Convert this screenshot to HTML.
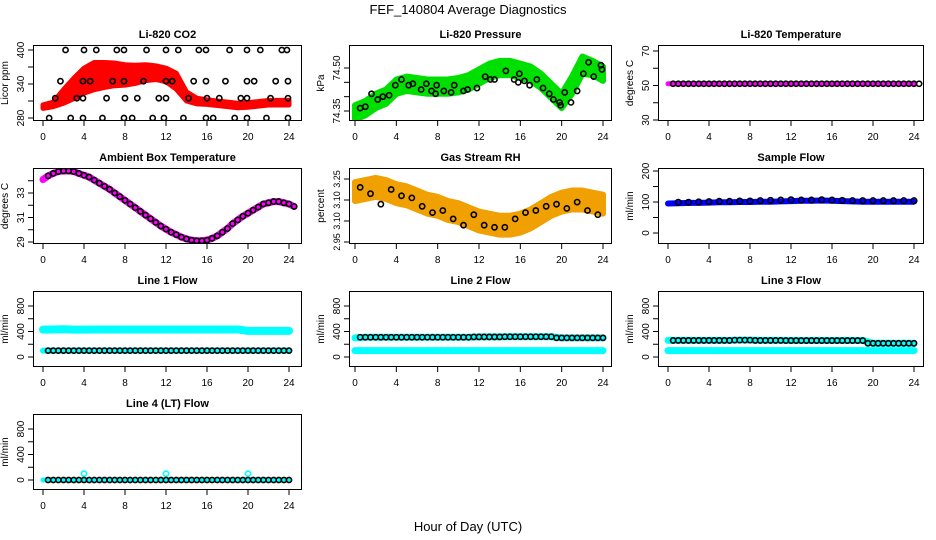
<!DOCTYPE html>
<html><head><meta charset="utf-8"><style>
body{margin:0;background:#fff}
svg{display:block}
text{font-family:"Liberation Sans",sans-serif;fill:#000}
</style></head><body>
<svg id="c" width="936" height="540" viewBox="0 0 936 540">
<text x="468" y="14" text-anchor="middle" font-size="13">FEF_140804  Average Diagnostics</text>
<text x="468" y="531" text-anchor="middle" font-size="13">Hour of Day (UTC)</text>
</svg>
<script>
// ---- data (hourly unless noted) ----
const hours = [0,1,2,3,4,5,6,7,8,9,10,11,12,13,14,15,16,17,18,19,20,21,22,23,24];
const co2Band = [300,304,318,332,346,354,356,357,356,357,360,360,356,345,318,310,308,306,304,302,303,305,307,307,307];
const co2Spread = [3,4,12,18,22,24,22,20,18,16,14,12,12,14,8,5,4,4,4,4,4,4,4,4,4];
const co2PtTimes = [2.2,4.0,5.2,7.2,7.9,10.1,12.0,13.2,15.2,15.9,18.2,19.9,21.2,23.3,23.8,1.7,3.9,4.6,6.8,7.9,9.8,12.0,12.6,14.7,15.9,17.8,19.9,20.6,22.7,23.9,1.2,3.3,3.9,6.2,8.0,9.2,11.3,12.0,14.2,16.0,17.2,19.3,19.9,22.2,23.9,0.6,2.7,3.9,5.8,7.9,8.7,10.7,11.8,13.7,15.9,16.6,18.7,19.9,21.8,23.9];
const co2PtVals = [400,400,400,400,400,400,400,400,400,400,400,400,400,400,400,345,345,345,345,345,345,345,345,345,345,345,345,345,345,345,315,315,315,315,315,315,315,315,315,315,315,315,315,315,315,280,280,280,280,280,280,280,280,280,280,280,280,280,280,280];
const presBand = [74.345,74.36,74.385,74.40,74.435,74.445,74.44,74.435,74.435,74.435,74.44,74.45,74.47,74.49,74.50,74.50,74.49,74.48,74.455,74.42,74.385,74.44,74.51,74.50,74.48];
const presSpread = [0.025,0.025,0.025,0.025,0.025,0.025,0.025,0.025,0.025,0.025,0.025,0.025,0.025,0.025,0.025,0.025,0.025,0.025,0.025,0.025,0.025,0.03,0.03,0.025,0.025];
const presPtTimes = [0.5,1,1.6,2.2,2.7,3.3,3.9,4.5,5.2,5.6,6.4,6.9,7.4,7.8,7.9,8.6,9.3,9.6,10.5,10.9,11.8,12.6,13.1,13.5,14.6,15.4,15.8,15.9,16.4,16.9,17.6,18.2,18.8,19.2,19.8,19.9,20.3,20.9,21.5,22.1,22.6,23.1,23.8,23.9];
const presPtVals = [74.36,74.365,74.41,74.39,74.40,74.405,74.44,74.46,74.44,74.445,74.425,74.445,74.42,74.41,74.44,74.42,74.415,74.44,74.42,74.425,74.43,74.47,74.46,74.46,74.49,74.46,74.45,74.48,74.455,74.44,74.46,74.43,74.41,74.39,74.38,74.37,74.415,74.38,74.42,74.48,74.52,74.47,74.51,74.495];
const licorTemp = [51,51,51,51,51,51,51,51,51,51,51,51,51,51,51,51,51,51,51,51,51,51,51,51,51];
const ambStart = [34.1];
const ambPts = [34.4,34.6,34.75,34.8,34.8,34.75,34.6,34.45,34.3,34.05,33.8,33.55,33.3,33.0,32.7,32.4,32.1,31.8,31.5,31.2,30.9,30.6,30.3,30.05,29.8,29.6,29.4,29.25,29.15,29.1,29.1,29.15,29.3,29.5,29.8,30.1,30.5,30.8,31.1,31.35,31.6,31.85,32.1,32.2,32.3,32.3,32.2,32.1,31.9];
const rhBand = [3.19,3.20,3.21,3.20,3.18,3.17,3.15,3.13,3.12,3.10,3.09,3.07,3.05,3.04,3.03,3.03,3.04,3.06,3.09,3.12,3.14,3.15,3.15,3.14,3.13];
const rhPts = [3.21,3.18,3.13,3.20,3.17,3.16,3.12,3.09,3.10,3.06,3.03,3.08,3.03,3.02,3.02,3.06,3.09,3.10,3.12,3.13,3.11,3.14,3.10,3.08];
const sampleBand = [95,96,97,97,98,99,99,100,100,101,101,102,103,104,104,105,104,103,102,101,101,101,101,101,101];
const samplePts = [98,99,99,100,101,102,102,103,103,104,105,106,107,106,106,107,106,105,104,104,104,104,104,104,104];
const line1Cyan = [430,432,435,430,430,432,432,432,432,432,432,432,432,432,432,432,432,432,432,432,410,410,410,410,410];
const line1Black = [100,100,100,100,100,100,100,100,100,100,100,100,100,100,100,100,100,100,100,100,100,100,100,100,100];
const line2Cyan = [100,100,100,100,100,100,100,100,100,100,100,100,100,100,100,100,100,100,100,100,100,100,100,100,100];
const line2Black = [300,310,310,310,310,310,310,310,310,310,310,310,315,315,315,318,318,318,318,318,300,300,300,300,300];
const line3Cyan = [100,100,100,100,100,100,100,100,100,100,100,100,100,100,100,100,100,100,100,100,100,100,100,100,100];
const line3Black = [260,260,260,260,260,260,260,265,265,260,260,260,258,258,258,258,258,258,258,258,215,215,215,215,215];
const line4Cyan = [0,0,0,0,100,0,0,0,0,0,0,0,100,0,0,0,0,0,0,0,100,0,0,0,0];
const line4Black = [0,0,0,0,0,0,0,0,0,0,0,0,0,0,0,0,0,0,0,0,0,0,0,0,0];
const xTicks = [0,4,8,12,16,20,24];

const svg = document.getElementById('c');
const NS = 'http://www.w3.org/2000/svg';
function mk(tag, attrs, parent){const e=document.createElementNS(NS,tag);for(const k in attrs)e.setAttribute(k,attrs[k]);(parent||svg).appendChild(e);return e;}

const colL=[33,349,658], colR=[302,612,924], colX0=[43,355,668], colX24=[289,603,914];
const rowT=[45,168,291,414], H=76;

function panel(o){
  const l=colL[o.col], r=colR[o.col], t=rowT[o.row], b=t+H;
  const g=mk('g',{});
  
  
  const xs=h=>colX0[o.col]+(colX24[o.col]-colX0[o.col])*h/24;
  const ys=v=>t+o.a[1]+(v-o.a[0])*(o.b[1]-o.a[1])/(o.b[0]-o.a[0]);
  const clip='cl'+o.name; const cp=mk('clipPath',{id:clip},g); mk('rect',{x:l,y:t,width:r-l,height:H},cp);
  const d=mk('g',{'clip-path':'url(#'+clip+')'},g);
  (o.bands||[]).forEach(bd=>{
    let pts=[];
    bd.c.forEach((v,i)=>pts.push(xs(hours[i])+','+ys(v+bd.s[i])));
    for(let i=bd.c.length-1;i>=0;i--)pts.push(xs(hours[i])+','+ys(bd.c[i]-bd.s[i]));
    const p=mk('polygon',{points:pts.join(' '),fill:bd.color,stroke:bd.color,'stroke-width':bd.sw||5,'stroke-linejoin':'round'},d);
    
    
  });
  (o.lines||[]).forEach(ln=>{
    const tt=ln.t||hours;
    const pl=mk('polyline',{points:ln.v.map((v,i)=>xs(tt[i])+','+ys(v)).join(' '),fill:'none',stroke:ln.color,'stroke-width':ln.w,'stroke-linejoin':'round','stroke-linecap':'round'},d);
    
    
  });
  (o.pts||[]).forEach(ps=>{
    ps.v.forEach((v,i)=>{
      const c=mk('circle',{cx:xs(ps.t[i]),cy:ys(v),r:ps.r||2.6,fill:'none',stroke:ps.color,'stroke-width':ps.sw||1.6},d);
      
      
    });
  });
  mk('rect',{x:l+0.5,y:t+0.5,width:r-l-1,height:H-1,fill:'none',stroke:'#000','stroke-width':1},g);
  xTicks.forEach(h=>{
    const x=xs(h);
    mk('line',{x1:x,y1:b,x2:x,y2:b+5,stroke:'#000'},g);
    const tx=mk('text',{x:x,y:b+19,'text-anchor':'middle','font-size':10},g);tx.textContent=h;
    
    
  });
  o.yt.forEach((v,i)=>{
    const y=ys(v);
    mk('line',{x1:l,y1:y,x2:l-5,y2:y,stroke:'#000'},g);
    if(o.yl[i]!==''){
      const tx=mk('text',{x:l-9,y:y,'text-anchor':'middle','font-size':o.yfs||10,transform:'rotate(-90 '+(l-9)+' '+y+')'},g);tx.textContent=o.yl[i];
      
      
    }
  });
  const yt=mk('text',{x:l-25,y:(t+b)/2,'text-anchor':'middle','font-size':10,transform:'rotate(-90 '+(l-25)+' '+(t+b)/2+')'},g);yt.textContent=o.ytitle;
  
  
  const tt=mk('text',{x:(l+r)/2,y:t-7,'text-anchor':'middle','font-size':11,'font-weight':'bold'},g);tt.textContent=o.title;
  
  
}
const halfT=ambPts.map((v,i)=>0.5*(i+1));
const ambT=[0].concat(halfT);
const ambLine=ambStart.concat(ambPts);
const rhT=rhPts.map((v,i)=>i+0.5);

panel({name:'co2-panel',col:0,row:0,title:'Li-820 CO2',ytitle:'Licor ppm',a:[400,5],b:[280,73],yt:[280,310,340,370,400],yl:['280','','340','','400'],
  bands:[{name:'co2-band',c:co2Band,s:co2Spread,color:'#ff0000',sw:5}],
  pts:[{name:'co2-point',t:co2PtTimes,v:co2PtVals,color:'#000'}]});
panel({name:'pressure-panel',col:1,row:0,title:'Li-820 Pressure',ytitle:'kPa',a:[74.50,23],b:[74.35,66],yt:[74.35,74.40,74.45,74.50],yl:['74.35','','','74.50'],
  bands:[{name:'pressure-band',c:presBand,s:presSpread,color:'#00e000',sw:6}],
  pts:[{name:'pressure-point',t:presPtTimes,v:presPtVals,color:'#000'}]});
panel({name:'licor-temp-panel',col:2,row:0,title:'Li-820 Temperature',ytitle:'degrees C',a:[70,6],b:[30,75],yt:[30,40,50,60,70],yl:['30','','50','','70'],
  lines:[{name:'licor-temp-line',v:licorTemp,color:'#ff00ff',w:5}],
  pts:[{name:'licor-temp-point',t:halfT,v:halfT.map(()=>licorTemp[0]),color:'#000'}]});
panel({name:'ambient-panel',col:0,row:1,title:'Ambient Box Temperature',ytitle:'degrees C',a:[33,25],b:[29,74],yt:[29,30,31,32,33,34],yl:['29','','31','','33',''],
  lines:[{name:'ambient-line',t:ambT,v:ambLine,color:'#ff00ff',w:7}],
  pts:[{name:'ambient-point',t:halfT,v:ambPts,color:'#000'}]});
panel({name:'rh-panel',col:1,row:1,title:'Gas Stream RH',ytitle:'percent',yfs:9,a:[3.25,11],b:[2.95,74],yt:[2.95,3.05,3.15,3.25],yl:['2.95','3.10','3.10','3.25'],
  bands:[{name:'rh-band',c:rhBand,s:hours.map(()=>0.045),color:'#f0a000',sw:6}],
  pts:[{name:'rh-point',t:rhT,v:rhPts,color:'#000'}]});
panel({name:'sample-flow-panel',col:2,row:1,title:'Sample Flow',ytitle:'ml/min',a:[200,3],b:[0,65],yt:[0,50,100,150,200],yl:['0','','100','','200'],
  lines:[{name:'sample-flow-line',v:sampleBand,color:'#0000ff',w:6}],
  pts:[{name:'sample-flow-point',t:hours.slice(1),v:samplePts.slice(1),color:'#000',r:2.8}]});
const flowY={a:[800,15],b:[0,66],yt:[0,200,400,600,800],yl:['0','','400','','800'],ytitle:'ml/min'};
panel(Object.assign({name:'line1-panel',col:0,row:2,title:'Line 1 Flow',
  lines:[{name:'line1-cyan',v:line1Cyan,color:'#00ffff',w:8},{name:'line1-cyan-low',v:line1Black,color:'#00ffff',w:6}],
  pts:[{name:'line1-point',t:halfT,v:halfT.map(h=>line1Black[Math.round(h)]),color:'#000'}]},flowY));
panel(Object.assign({name:'line2-panel',col:1,row:2,title:'Line 2 Flow',
  lines:[{name:'line2-cyan',v:line2Cyan,color:'#00ffff',w:7},{name:'line2-cyan-high',v:line2Black,color:'#00ffff',w:7}],
  pts:[{name:'line2-point',t:halfT,v:halfT.map(h=>line2Black[Math.round(h)]),color:'#000'}]},flowY));
panel(Object.assign({name:'line3-panel',col:2,row:2,title:'Line 3 Flow',
  lines:[{name:'line3-cyan',v:line3Cyan,color:'#00ffff',w:7},{name:'line3-cyan-high',v:line3Black,color:'#00ffff',w:7}],
  pts:[{name:'line3-point',t:halfT,v:halfT.map(h=>line3Black[Math.round(h)]),color:'#000'}]},flowY));
panel(Object.assign({name:'line4-panel',col:0,row:3,title:'Line 4 (LT) Flow',
  lines:[{name:'line4-cyan',v:line4Black,color:'#00ffff',w:5}],
  pts:[{name:'line4-spike',t:hours.filter((h,i)=>line4Cyan[i]>0),v:line4Cyan.filter(v=>v>0),color:'#00ffff'},
       {name:'line4-point',t:halfT,v:halfT.map(h=>line4Black[Math.round(h)]),color:'#000'}]},flowY));
</script>
</body></html>
